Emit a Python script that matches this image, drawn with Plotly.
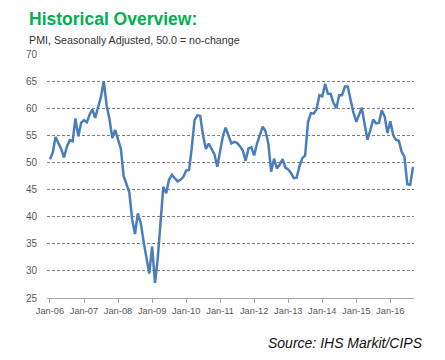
import pandas as pd
import plotly.graph_objects as go

# PMI values, monthly from Jan-06
pmi_values = [
    50.6, 51.9, 54.7, 53.6, 52.5, 50.9, 52.9, 54.1, 53.9, 58.1, 54.8, 57.3,   # 2006
    57.8, 57.4, 58.8, 59.8, 58.2, 60.2, 62.0, 65.0, 60.5, 58.0, 54.5, 56.0,   # 2007
    54.1, 52.5, 47.5, 46.0, 44.5, 39.5, 36.8, 40.6, 38.8, 35.5, 32.5, 29.5,   # 2008
    34.5, 27.8, 32.0, 39.0, 45.5, 44.3, 46.8, 47.7, 47.1, 46.5, 46.8, 47.3,   # 2009
    48.5, 48.6, 52.5, 57.8, 58.7, 58.6, 55.0, 52.5, 53.5, 52.4, 51.5, 49.2,   # 2010
    52.5, 55.0, 56.4, 55.0, 53.5, 53.8, 53.6, 53.0, 52.2, 50.3, 52.6, 52.8,   # 2011
    51.3, 53.5, 55.2, 56.6, 55.8, 53.5, 48.3, 50.7, 48.9, 49.6, 50.6, 49.0,   # 2012
    48.7, 48.0, 47.1, 47.2, 49.3, 50.8, 51.3, 57.5, 59.1, 59.0, 59.8, 62.4,   # 2013
    62.2, 64.5, 62.7, 62.6, 61.0, 60.0, 62.4, 62.4, 64.0, 64.0, 61.5, 59.2,   # 2014
    57.5, 58.8, 60.1, 57.0, 54.2, 56.0, 57.9, 57.2, 57.3, 59.6, 58.5, 55.4,   # 2015
    57.6, 55.0, 54.2, 54.0, 52.0, 51.0, 46.0, 45.9, 49.2,                     # 2016
]
months = pd.date_range("2006-01-01", periods=len(pmi_values), freq="MS")
y_ticks = [25, 30, 35, 40, 45, 50, 55, 60, 65, 70]

title_text = "Historical Overview:"
subtitle_text = "PMI, Seasonally Adjusted, 50.0 = no-change"
source_text = "Source: IHS Markit/CIPS"

fig = go.Figure()
fig.add_trace(go.Scatter(
    x=months, y=pmi_values, mode="lines",
    line=dict(color="#4A7EBB", width=2.5),
    hoverinfo="x+y", showlegend=False,
))

font_main = "Liberation Sans, Arial, sans-serif"

# page body adds an 8px offset, so the figure is 8px smaller and margins shifted
fig.update_layout(
    width=437, height=352,
    margin=dict(l=39, r=31, t=46, b=62),
    paper_bgcolor="white", plot_bgcolor="white",
    font=dict(family=font_main, color="#595959"),
    xaxis=dict(
        type="date",
        range=["2005-11-30", "2016-09-11"],
        tick0="2006-01-01", dtick="M12", tickformat="%b-%y",
        showgrid=False, zeroline=False,
        showline=True, linecolor="#A6A6A6", linewidth=1,
        ticks="outside", ticklen=4, tickcolor="#A6A6A6",
        tickfont=dict(size=9.3, color="#595959"),
    ),
    yaxis=dict(
        range=[25, 70], tickvals=y_ticks,
        showgrid=True, gridcolor="#7F7F7F", gridwidth=1, griddash="3px,2px",
        zeroline=False, showline=False,
        ticks="outside", ticklen=7, tickcolor="rgba(0,0,0,0)",
        tickfont=dict(size=10, color="#595959"),
    ),
    annotations=[
        dict(text="<b>" + title_text + "</b>", xref="paper", yref="paper",
             x=-0.0545, y=1.143, xanchor="left", yanchor="middle", showarrow=False,
             font=dict(size=17.5, color="#00B050", family=font_main)),
        dict(text=subtitle_text, xref="paper", yref="paper",
             x=-0.0545, y=1.057, xanchor="left", yanchor="middle", showarrow=False,
             font=dict(size=10.7, color="#333333", family=font_main)),
        dict(text="<i>" + source_text + "</i>", xref="paper", yref="paper",
             x=1.03, y=-0.184, xanchor="right", yanchor="middle", showarrow=False,
             font=dict(size=14, color="#111111", family=font_main)),
    ],
)

fig.write_html("out.html")
